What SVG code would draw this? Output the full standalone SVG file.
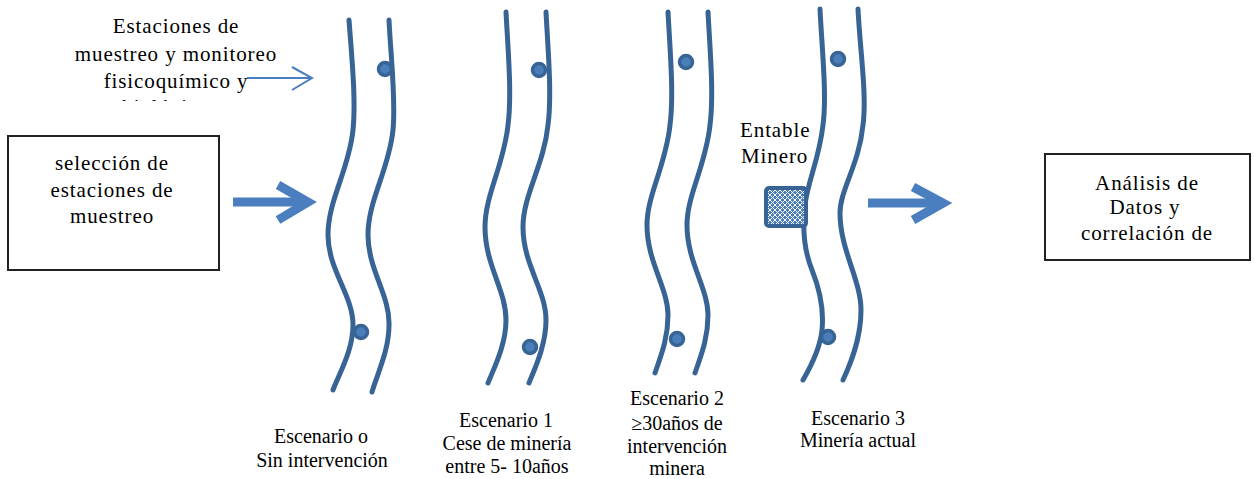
<svg xmlns="http://www.w3.org/2000/svg" width="1254" height="479" viewBox="0 0 1254 479">
<style>
text{font-family:"Liberation Serif",serif;fill:#000;}
.big{font-size:21px;letter-spacing:0.9px;}
.sm{font-size:20px;}
.river{fill:none;stroke:#386495;stroke-width:5;stroke-linecap:round;}
.dot{fill:#4A7EBB;stroke:#386495;stroke-width:3.5;}
.box{fill:#fff;stroke:#222;stroke-width:2;}
.bigarrow{fill:none;stroke:#4A7EBF;stroke-width:9;stroke-linejoin:miter;}
.thinarrow{fill:none;stroke:#4A7EBF;stroke-width:2;}
</style>
<defs>
<pattern id="hatch" width="5" height="5" patternUnits="userSpaceOnUse">
<rect width="5" height="5" fill="#4A7EBB"/>
<path d="M0,0 L5,5 M5,0 L0,5" stroke="#fff" stroke-width="1"/>
</pattern>
<clipPath id="clipTop"><rect x="0" y="0" width="400" height="101"/></clipPath>
</defs>

<g id="connectors">
<path class="thinarrow" d="M247,78 L311,78 M292,67 L312,78 L292,90"/>
<path class="bigarrow" d="M233,202 L304,202"/>
<path class="bigarrow" d="M278,185 L308,202 L278,220"/>
<path class="bigarrow" d="M868,203 L938,203"/>
<path class="bigarrow" d="M913,187 L943,203 L913,220"/>
</g>

<g id="node-seleccion" font-family="Liberation Serif, serif">
<rect class="box" x="8" y="136" width="211" height="134"/>
<text class="big" text-anchor="middle" x="112" y="170">selección de</text>
<text class="big" text-anchor="middle" x="112" y="197">estaciones de</text>
<text class="big" text-anchor="middle" x="112" y="223">muestreo</text>
</g>

<g id="node-estaciones-label" font-family="Liberation Serif, serif">
<text class="big" text-anchor="middle" x="176" y="33">Estaciones de</text>
<text class="big" text-anchor="middle" x="176" y="61">muestreo y monitoreo</text>
<text class="big" text-anchor="middle" x="176" y="88">fisicoquímico y</text>
<text class="big" text-anchor="middle" x="166" y="114" clip-path="url(#clipTop)">biológico</text>
</g>

<g id="node-escenario0" font-family="Liberation Serif, serif">
<path class="river" d="M349,20 C352,60 356,100 353,130 C349,170 328,200 328,235 C328,270 353,295 353,325 C353,350 340,372 333,390"/>
<path class="river" d="M389,20 C391,60 396,100 393,130 C389,170 368,200 368,235 C368,270 390,295 389,325 C389,350 378,372 372,392"/>
<circle class="dot" cx="385" cy="69" r="6.5"/>
<circle class="dot" cx="361" cy="332" r="6.5"/>
<text class="sm" text-anchor="middle" x="321" y="443">Escenario o</text>
<text class="sm" text-anchor="middle" x="322" y="467">Sin intervención</text>
</g>

<g id="node-escenario1" font-family="Liberation Serif, serif">
<path class="river" d="M506,12 C508,50 512,95 508,125 C504,165 485,195 485,227 C485,265 506,290 506,320 C506,345 494,368 488,383"/>
<path class="river" d="M546,12 C548,50 552,95 548,125 C544,165 523,195 523,227 C523,265 546,290 546,320 C546,345 535,368 529,383"/>
<circle class="dot" cx="539" cy="70" r="6.5"/>
<circle class="dot" cx="530" cy="347" r="6.5"/>
<text class="sm" text-anchor="middle" x="506" y="427">Escenario 1</text>
<text class="sm" text-anchor="middle" x="507" y="450">Cese de minería</text>
<text class="sm" text-anchor="middle" x="507" y="473">entre 5- 10años</text>
</g>

<g id="node-escenario2" font-family="Liberation Serif, serif">
<path class="river" d="M668,12 C670,50 674,95 670,125 C666,165 647,195 647,225 C647,262 668,288 668,315 C668,340 660,358 655,373"/>
<path class="river" d="M708,12 C710,50 714,95 710,125 C706,165 687,195 687,225 C687,262 708,288 708,315 C708,340 700,358 695,373"/>
<circle class="dot" cx="686" cy="62" r="6.5"/>
<circle class="dot" cx="677" cy="339" r="6.5"/>
<text class="sm" text-anchor="middle" x="677" y="405">Escenario 2</text>
<text class="sm" text-anchor="middle" x="677" y="430">≥30años de</text>
<text class="sm" text-anchor="middle" x="677" y="453">intervención</text>
<text class="sm" text-anchor="middle" x="677" y="475">minera</text>
</g>

<g id="node-escenario3" font-family="Liberation Serif, serif">
<text class="big" x="740" y="137">Entable</text>
<text class="big" x="741" y="163">Minero</text>
<path class="river" d="M820,9 C822,50 827,95 823,125 C819,160 808,180 805,205 C802,230 804,250 812,270 C820,290 824,310 822,330 C820,350 810,368 803,380"/>
<path class="river" d="M858,9 C860,50 867,95 863,125 C859,165 840,190 840,213 C840,250 861,280 861,310 C861,340 850,365 843,380"/>
<circle class="dot" cx="838" cy="59" r="6.5"/>
<circle class="dot" cx="828" cy="337" r="6.5"/>
<rect x="766" y="188" width="40" height="38" rx="3" fill="url(#hatch)" stroke="#386495" stroke-width="4"/>
<text class="sm" text-anchor="middle" x="858" y="425">Escenario 3</text>
<text class="sm" text-anchor="middle" x="858" y="447">Minería actual</text>
</g>

<g id="node-analisis" font-family="Liberation Serif, serif">
<rect class="box" x="1045" y="154" width="205" height="106"/>
<text class="big" text-anchor="middle" x="1147" y="190">Análisis de</text>
<text class="big" text-anchor="middle" x="1145" y="214">Datos y</text>
<text class="big" text-anchor="middle" x="1147" y="240">correlación de</text>
</g>
</svg>
